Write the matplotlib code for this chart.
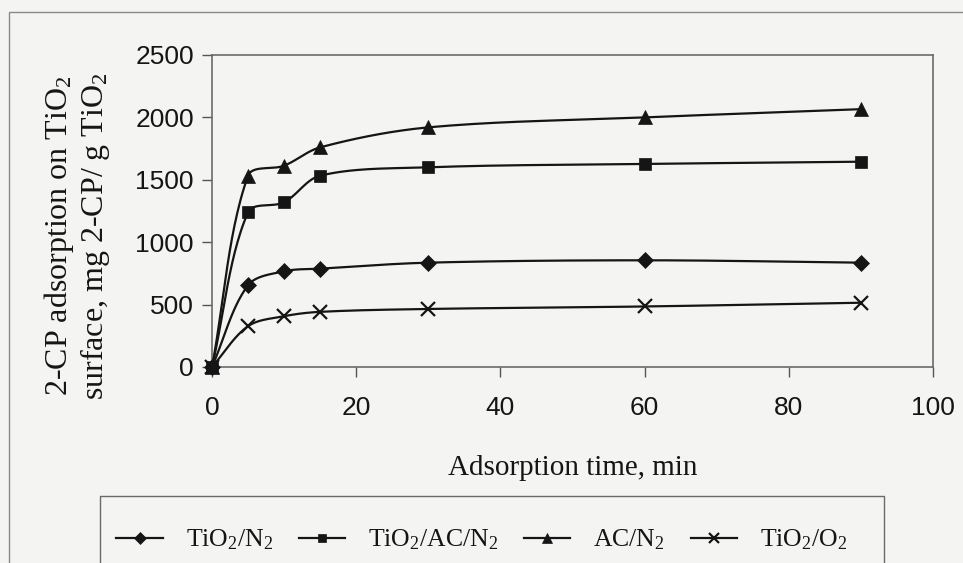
import matplotlib
matplotlib.use("Agg")
import matplotlib.pyplot as plt
from matplotlib.lines import Line2D
from matplotlib.patches import Rectangle
import numpy as np

plt.rcParams['font.family'] = 'Liberation Sans'
plt.rcParams['mathtext.fontset'] = 'custom'
plt.rcParams['mathtext.rm'] = 'Liberation Serif'
plt.rcParams['mathtext.it'] = 'Liberation Serif:italic'

# adsorption time, min
time = [0, 5, 10, 15, 30, 60, 90]
# 2-CP adsorbed, mg 2-CP / g TiO2
tio2_n2 = [0, 655, 767, 788, 836, 855, 836]
tio2_ac_n2 = [0, 1240, 1320, 1533, 1600, 1627, 1645]
ac_n2 = [0, 1533, 1613, 1760, 1920, 2000, 2066]
tio2_o2 = [0, 327, 407, 442, 465, 485, 515]

labels = ['TiO$_2$/N$_2$', 'TiO$_2$/AC/N$_2$', 'AC/N$_2$', 'TiO$_2$/O$_2$']
markers = ['D', 's', '^', 'x']
msizes = [8, 8, 9.5, 10]


def smooth(x, y, kx, ky, n=30):
    # excel-like bezier smoothing, control arms sized by neighbouring chords (screen space)
    pts = np.column_stack([np.asarray(x, float) * kx, np.asarray(y, float) * ky])
    ext = np.vstack([pts[0], pts, pts[-1]])
    t = np.linspace(0, 1, n)[:, None]
    segs = []
    for i in range(len(pts) - 1):
        p0, p1, p2, p3 = ext[i], ext[i + 1], ext[i + 2], ext[i + 3]
        d01 = np.hypot(*(p1 - p0))
        d12 = np.hypot(*(p2 - p1))
        d23 = np.hypot(*(p3 - p2))
        c1 = p1 + (p2 - p0) * d12 / max(d01 + d12, 1e-9) / 3
        c2 = p2 - (p3 - p1) * d12 / max(d12 + d23, 1e-9) / 3
        segs.append((1 - t)**3 * p1 + 3 * (1 - t)**2 * t * c1
                    + 3 * (1 - t) * t**2 * c2 + t**3 * p2)
    s = np.vstack(segs)
    return s[:, 0] / kx, s[:, 1] / ky


bg = '#f4f4f3'
ink = '#151515'
fig = plt.figure(figsize=(9.63, 5.63), dpi=100, facecolor=bg)
W, H = 963, 563

# outer chart frame
fig.patches.append(Rectangle((9 / W, -0.1), 1.0, 1 - 12 / H + 0.1, transform=fig.transFigure,
                             fill=False, edgecolor='#8a8a8a', lw=1.0))

ax = fig.add_axes([212 / W, 1 - 367 / H, (933 - 212) / W, (367 - 55) / H], facecolor=bg)
kx = (933 - 212) / 100
ky = (367 - 55) / 2500

handles = []
for ys, lab, m, ms in zip([tio2_n2, tio2_ac_n2, ac_n2, tio2_o2], labels, markers, msizes):
    sx, sy = smooth(time, ys, kx, ky)
    ax.plot(sx, sy, color=ink, lw=1.6, clip_on=False, zorder=3)
    mew = 1.6 if m == 'x' else 0.5
    ax.plot(time, ys, ls='none', marker=m, ms=ms, color=ink, mew=mew, clip_on=False, zorder=4)
    handles.append(Line2D([], [], color=ink, lw=1.6, marker=m, ms=ms * 0.75, mew=mew, label=lab))

ax.set_xlim(0, 100)
ax.set_ylim(0, 2500)
ax.set_xticks(range(0, 101, 20))
ax.set_yticks(range(0, 2501, 500))
ax.tick_params(direction='out', length=7, width=1, color='#555555', labelsize=19,
               labelcolor=ink)
ax.tick_params(axis='y', pad=6)
ax.tick_params(axis='x', pad=14)
for sp in ax.spines.values():
    sp.set_color('#6a6a6a')
    sp.set_linewidth(1.2)

ax.set_xlabel('Adsorption time, min', fontsize=21, family='Liberation Serif', color=ink, labelpad=25)
fig.text(77 / W, 1 - 236 / H, '2-CP adsorption on TiO$_2$\nsurface, mg 2-CP/ g TiO$_2$',
         rotation=90, ha='center', va='center', multialignment='center',
         fontsize=23, family='Liberation Serif', color=ink, linespacing=1.1)

# legend box (runs past the bottom edge)
fig.patches.append(Rectangle((100 / W, -0.1), (884 - 100) / W, 1 - 496 / H + 0.1,
                             transform=fig.transFigure, fill=False, edgecolor='#6a6a6a', lw=1.0))
leg = fig.legend(handles=handles, loc='center', bbox_to_anchor=(482 / W, 1 - 540 / H),
                 ncol=4, frameon=False, handlelength=1.8, columnspacing=1.0, handletextpad=0.9,
                 prop={'family': 'Liberation Serif', 'size': 18.5})
for t in leg.get_texts():
    t.set_color(ink)

fig.savefig('out.png', dpi=100, facecolor=bg)
